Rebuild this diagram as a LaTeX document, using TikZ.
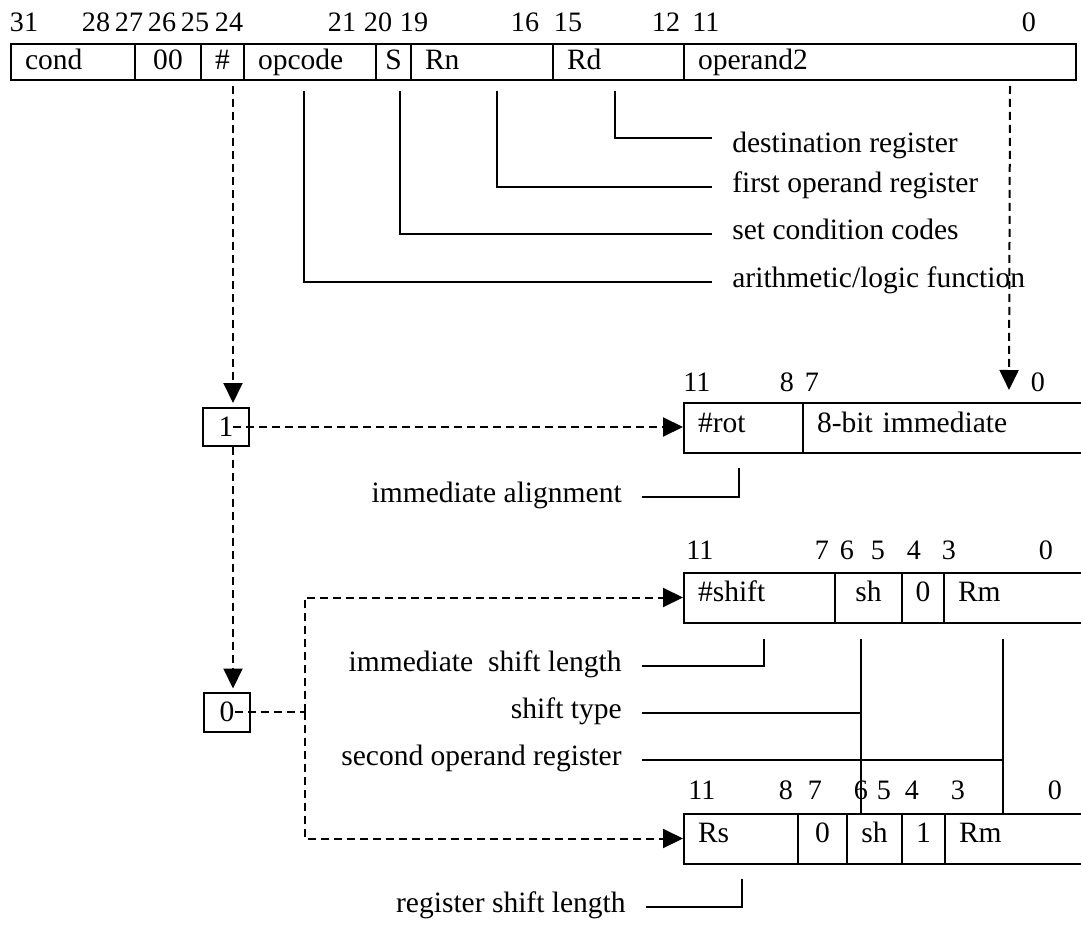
\documentclass[tikz,border=0pt]{standalone}
\usepackage{fontspec}
\setmainfont{Liberation Serif}
\usetikzlibrary{arrows.meta}
\newlength{\pxu}
\setlength{\pxu}{0.02cm}
\tikzset{
  fld/.style={draw, line width=.04cm, inner ysep=0pt, inner xsep=14\pxu, text height=.68em, text depth=.22em, anchor=west},
  fl/.style={fld, text width=#1\pxu, align=left},
  fc/.style={fld, inner xsep=0pt, minimum width=#1\pxu},
  hirow/.style={minimum height=36\pxu, text height=.85em, text depth=.05em},
  lorow/.style={minimum height=50\pxu},
  num/.style={inner sep=0pt, font=\fontsize{16}{19}\selectfont},
  lbl/.style={inner xsep=20\pxu, inner ysep=0pt, text height=.72em, text depth=.06em},
  ln/.style={line width=.04cm},
  dsh/.style={line width=.04cm, dash pattern=on .16cm off .1cm},
  arw/.style={-{Triangle[length=.4cm, width=.38cm]}},
  bitbox/.style={draw, line width=.04cm, minimum width=46\pxu, minimum height=38\pxu, inner sep=0pt},
}

\begin{document}
\begin{tikzpicture}[x=0.02cm, y=-0.02cm, font=\fontsize{16.8}{20}\selectfont]
  \useasboundingbox (0,0) rectangle (1081,928);
  % instruction word
  \foreach \x/\b in {24/31,96/28,129/27,162/26,195/25,229/24,342/21,378/20,414/19,525/16,568/15,666/12,706/11,1029/0}
    \node[num] (t\b) at (\x,22) {\b};
  \node[fl=96, hirow] (cond) at (10,62) {cond};
  \node[fc=66, hirow] (zz) at (134,62) {00};
  \node[fc=43, hirow] (hash) at (200,62) {\#};
  \node[fl=104, hirow] (opc) at (243,62) {opcode};
  \node[fc=35, hirow] (sbit) at (375,62) {S};
  \node[fl=114, hirow] (rn) at (410,62) {Rn};
  \node[fl=103, hirow] (rd) at (552,62) {Rd};
  \node[fl=364, hirow] (op2) at (683,62) {operand2};

  \node[lbl, anchor=west] (lrd) at (712,147) {destination register};
  \node[lbl, anchor=west] (lrn) at (712,187) {first operand register};
  \node[lbl, anchor=west] (ls) at (712,234) {set condition codes};
  \node[lbl, anchor=west] (lop) at (712,282) {arithmetic/logic function};
  \draw[ln] ([xshift=-3.5\pxu,yshift=-10\pxu]rd.south) |- ([yshift=9\pxu]lrd.west);
  \draw[ln] ([xshift=15\pxu,yshift=-10\pxu]rn.south) |- (lrn.west);
  \draw[ln] ([xshift=6.5\pxu,yshift=-10\pxu]sbit.south) |- (ls.west);
  \draw[ln] ([xshift=-6\pxu,yshift=-10\pxu]opc.south) |- (lop.west);

  \coordinate (otip) at (1009,390);
  \draw[dsh,arw] ([xshift=130\pxu,yshift=-5\pxu]op2.south) -- (otip);

  % the # bit
  \coordinate (hcol) at ([xshift=10.5\pxu,yshift=-5\pxu]hash.south);
  \node[bitbox] (one) at (226,427) {1};
  \node[bitbox, minimum height=39\pxu] (zero) at (227,712) {0};
  \draw[dsh,arw,shorten >=4\pxu] (hcol) -- (hcol |- one.north);
  \draw[dsh,arw,shorten >=3\pxu] (hcol |- one.south) -- (hcol |- zero.north);

  % immediate operand
  \foreach \x/\b in {697/11,787/8,812/7,1038/0}
    \node[num] (m\b) at (\x,382) {\b};
  \node[fl=91, lorow] (rot) at (683,428.5) {\#rot};
  \node[fl=272, lorow] (imm) at (802,428.5) {8-bit immediate};
  \draw[dsh,arw] ([xshift=7\pxu]one.center) -- (one.center -| rot.west);
  \node[lbl, anchor=east] (lalign) at (642,497) {immediate alignment};
  \draw[ln] ([xshift=-4.5\pxu,yshift=-14\pxu]rot.south) |- (lalign.east);

  % shift by immediate
  \foreach \x/\b in {700/11,822/7,847/6,878/5,914/4,949/3,1046/0}
    \node[num] (s\b) at (\x,550) {\b};
  \node[fl=123, lorow] (shamt) at (683,597.5) {\#shift};
  \node[fc=67, lorow] (sh) at (834,597.5) {sh};
  \node[fc=42, lorow] (zbit) at (901,597.5) {0};
  \node[fl=172, lorow] (rm) at (943,597.5) {Rm};

  \node[lbl, anchor=east] (limm) at (642,666) {immediate\ \ shift length};
  \node[lbl, anchor=east] (ltype) at (642,713) {shift type};
  \node[lbl, anchor=east] (lsec) at (642,760) {second operand register};

  % shift by register
  \foreach \x/\b in {702/11,786/8,815/7,861/6,884/5,912/4,958/3,1055/0}
    \node[num] (r\b) at (\x,790) {\b};
  \node[fl=86, lorow] (rs) at (683,838.5) {Rs};
  \node[fc=49, lorow] (zb) at (797,838.5) {0};
  \node[fc=55, lorow] (shb) at (846,838.5) {sh};
  \node[fc=43, lorow] (onebit) at (901,838.5) {1};
  \node[fl=172, lorow] (rmb) at (944,838.5) {Rm};
  \node[lbl, anchor=east] (lrs) at (646,907) {register shift length};

  \draw[ln] ([xshift=4.5\pxu,yshift=-15\pxu]shamt.south) |- (limm.east);
  \coordinate (shx) at ([xshift=-7.5\pxu,yshift=-15\pxu]sh.south);
  \coordinate (rmx) at ([xshift=60\pxu,yshift=-15\pxu]rm.south west);
  \draw[ln] (shx) -- (shx |- shb.north);
  \draw[ln] (rmx) -- (rmx |- rmb.north);
  \draw[ln] (ltype.east) -- (ltype.east -| shx);
  \draw[ln] (lsec.east) -- (lsec.east -| rmx);
  \draw[ln] ([xshift=1\pxu,yshift=-14\pxu]rs.south) |- (lrs.east);

  \coordinate (bus) at (305,712);
  \draw[dsh] ([xshift=8\pxu]zero.center) -- (bus);
  \draw[dsh,arw] (bus) |- (shamt.west);
  \draw[dsh,arw] (bus) |- (rs.west);
\end{tikzpicture}
\end{document}
